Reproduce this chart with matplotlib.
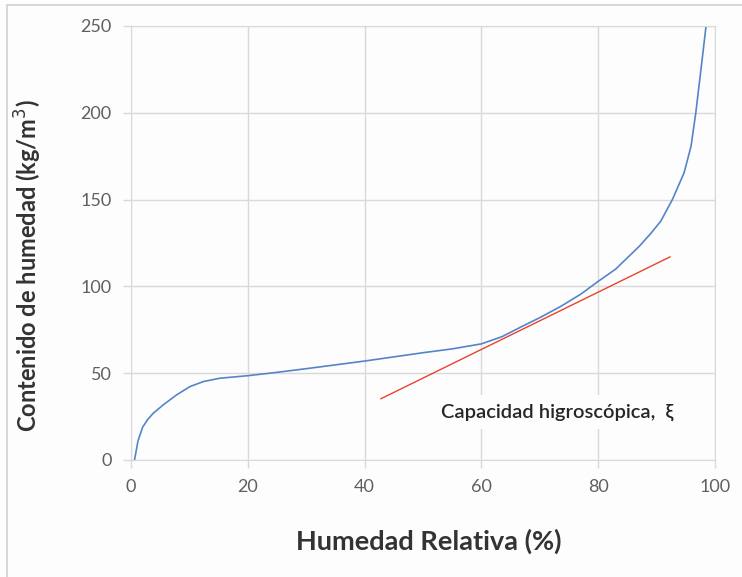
import matplotlib.pyplot as plt
from matplotlib.patches import Rectangle

# datos
hr = [0.6, 1.2, 2.0, 2.9, 3.8, 5.5, 7.8, 10.1, 12.4, 15.2, 20.1, 25.0, 30.0, 35.0,
      40.0, 45.0, 50.0, 55.0, 60.0, 63.5, 66.7, 70.0, 73.6, 77.0, 80.0, 83.0,
      85.0, 87.0, 89.0, 90.7, 92.7, 94.7, 95.9, 96.7, 97.1, 97.6, 98.5]
contenido = [0.0, 11.0, 19.0, 23.5, 26.9, 31.7, 37.5, 42.3, 45.2, 47.1, 48.6, 50.5,
             52.6, 54.8, 57.0, 59.4, 61.8, 64.0, 66.9, 71.0, 76.5, 82.0, 88.5, 95.5,
             102.9, 110.0, 116.5, 123.0, 130.5, 137.5, 150.0, 165.4, 180.8, 199.7,
             211.0, 225.0, 251.0]

tangente_x = [42.8, 92.3]
tangente_y = [35.3, 117.0]

xticks = [0, 20, 40, 60, 80, 100]
yticks = [0, 50, 100, 150, 200, 250]

gris = '#d9d9d9'
fuente = 'Lato'

fig = plt.figure(figsize=(7.42, 5.77), dpi=100, facecolor='#fdfdfd')
fig.patches.append(Rectangle((7 / 742, -0.1), 1.2, 1 - 5 / 577 + 0.1,
                             transform=fig.transFigure, fill=False,
                             edgecolor='#d0d0d0', linewidth=1.2))
ax = fig.add_axes([131 / 742, 117 / 577, 584 / 742, 434 / 577])
ax.set_facecolor('#fdfdfd')

ax.plot(hr, contenido, color='#5585c8', linewidth=1.2)
ax.plot(tangente_x, tangente_y, color='#e8432d', linewidth=1.0)

ax.set_xlim(0, 100)
ax.set_ylim(0, 250)
ax.set_xticks(xticks)
ax.set_yticks(yticks)
ax.grid(True, color=gris, linewidth=1.0)
ax.set_axisbelow(True)
for s in ax.spines.values():
    s.set_color(gris)
ax.tick_params(colors=gris, length=6, width=1.0, pad=8,
               labelcolor='#606060', labelsize=13)
for lab in ax.get_xticklabels() + ax.get_yticklabels():
    lab.set_fontfamily(fuente)

ax.set_xlabel('Humedad Relativa (%)', fontsize=19.5, fontweight='bold',
              color='#333333', family=fuente, va='center')
ax.xaxis.set_label_coords(0.51, -0.187)
ax.set_ylabel('Contenido de humedad (kg/m$^3$)', fontsize=17, fontweight='bold',
              color='#333333', family=fuente, va='center')
ax.yaxis.set_label_coords(-0.176, 0.447)

ax.text(53.1, 27.6, 'Capacidad higroscópica,  ξ', fontsize=14.5, fontweight='semibold',
        color='#262626', family=[fuente, 'DejaVu Sans'], va='center', ha='left',
        bbox=dict(facecolor='#fdfdfd', edgecolor='none', pad=6))

fig.savefig('out.png', dpi=100, facecolor=fig.get_facecolor())
